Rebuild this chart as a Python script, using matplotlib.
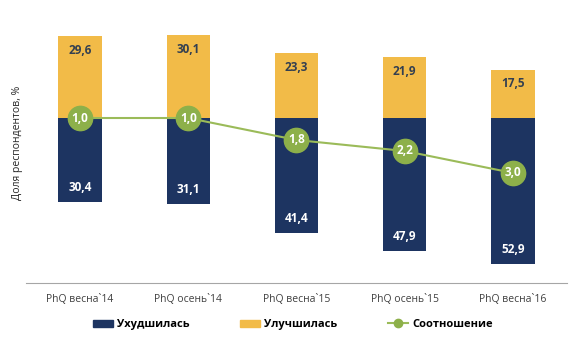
import matplotlib.pyplot as plt
from matplotlib.patches import Patch
from matplotlib.lines import Line2D

periods = ["PhQ весна`14", "PhQ осень`14", "PhQ весна`15", "PhQ осень`15", "PhQ весна`16"]
worse = [30.4, 31.1, 41.4, 47.9, 52.9]
better = [29.6, 30.1, 23.3, 21.9, 17.5]
ratio = [1.0, 1.0, 1.8, 2.2, 3.0]

navy = "#1D3461"
yellow = "#F2BB48"
green = "#8DB04A"
line_green = "#9BBB59"

plt.rcParams["font.family"] = ["Open Sans", "DejaVu Sans"]

fig = plt.figure(figsize=(5.74, 3.38), dpi=100)
ax = fig.add_axes([0.045, 0.163, 0.943, 0.831])
x = list(range(len(periods)))

ax.bar(x, better, width=0.4, color=yellow)
ax.bar(x, [-v for v in worse], width=0.4, color=navy)

for i in x:
    ax.text(i, better[i] - 5.2, f"{better[i]:.1f}".replace(".", ","),
            ha="center", va="center", fontsize=8.5, fontweight="bold", color="#333F50")
    ax.text(i, -worse[i] + 5.2, f"{worse[i]:.1f}".replace(".", ","),
            ha="center", va="center", fontsize=8.5, fontweight="bold", color="white")

ax.set_xlim(-0.5, 4.5)
ax.set_ylim(-59.6, 41.9)
ax.set_xticks(x)
ax.set_xticklabels(periods, fontsize=7.5, color="#404040")
ax.tick_params(axis="x", length=0, pad=8)
ax.set_yticks([])
for s in ["top", "right", "left"]:
    ax.spines[s].set_visible(False)
ax.spines["bottom"].set_color("#A6A6A6")
ax.set_ylabel("Доля респондентов, %", fontsize=7.5, color="#262626", labelpad=2)

ax2 = ax.twinx()
ax2.plot(x, ratio, color=line_green, lw=1.5, marker="o", markersize=17.5,
         markerfacecolor=green, markeredgecolor=green, zorder=3)
for i in x:
    ax2.text(i, ratio[i], f"{ratio[i]:.1f}".replace(".", ","),
             ha="center", va="center", fontsize=8.5, fontweight="bold", color="white", zorder=4)
ax2.set_ylim(7.0, -3.22)
ax2.set_yticks([])
for s in ["top", "right", "left", "bottom"]:
    ax2.spines[s].set_visible(False)

handles = [
    Patch(color=navy, label="Ухудшилась"),
    Patch(color=yellow, label="Улучшилась"),
    Line2D([0], [0], color=line_green, lw=1.5, marker="o", markersize=6,
           markerfacecolor=green, markeredgecolor=green, label="Соотношение"),
]
leg = fig.legend(handles=handles, loc="center", bbox_to_anchor=(0.51, 0.04), ncol=3,
                 frameon=False, fontsize=8, handlelength=1.8, handleheight=0.6,
                 columnspacing=4.5, handletextpad=0.4)
for t in leg.get_texts():
    t.set_fontweight("bold")

fig.savefig("out.png", dpi=100)
